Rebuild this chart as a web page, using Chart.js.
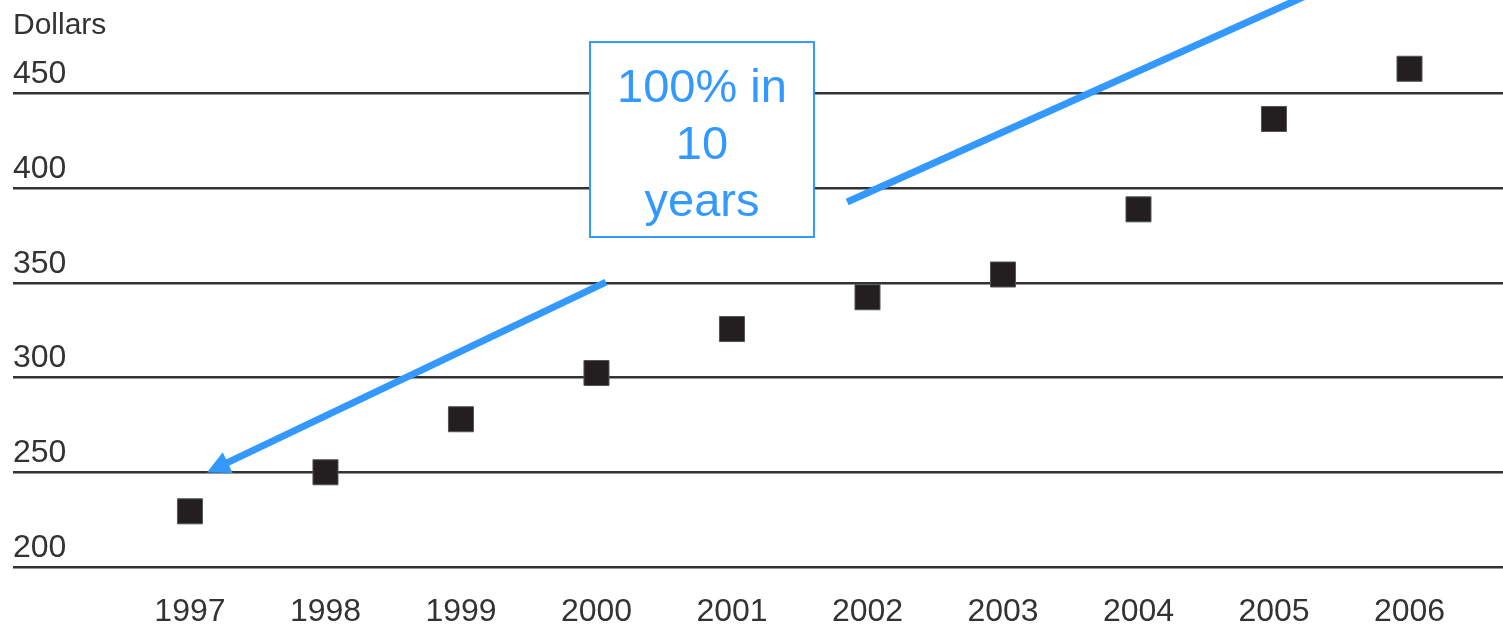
<!DOCTYPE html>
<html><head><meta charset="utf-8">
<script src="https://cdn.jsdelivr.net/npm/chart.js"></script>
<style>html,body{margin:0;padding:0;background:#fff;overflow:hidden}</style>
</head><body>
<canvas id="c" width="1503" height="640"></canvas>
<script>
// ---- data ----
const years = [1997, 1998, 1999, 2000, 2001, 2002, 2003, 2004, 2005, 2006];
const dollars = [229.4, 250.0, 278.0, 302.4, 325.6, 342.4, 354.4, 388.8, 436.5, 463.0];
const yTicks = [200, 250, 300, 350, 400, 450];
const axisTitle = 'Dollars';
const calloutLines = ['100% in', '10', 'years'];
// annotation anchors, in data units (year, dollars)
const calloutBox = { x0: 1999.952, x1: 2001.605, yTop: 477.1, yBottom: 374.2 };
const arrowIn = { from: [2000.07, 350.4], to: [1997.125, 249.9] };
const arrowOut = { from: [2001.85, 392.7], to: [2005.5, 510] };

const FONT = '"Liberation Sans", Arial, sans-serif';
const BLUE = '#3399ff';

const annotate = {
  id: 'annotate',
  afterDatasetsDraw(chart) {
    const { ctx, scales: { x, y } } = chart;
    ctx.save();
    // axis title
    ctx.fillStyle = '#333';
    ctx.font = '30px ' + FONT;
    ctx.textAlign = 'left';
    ctx.textBaseline = 'alphabetic';
    ctx.fillText(axisTitle, chart.chartArea.left, 34);

    // arrows
    ctx.strokeStyle = BLUE;
    ctx.fillStyle = BLUE;
    ctx.lineWidth = 7;
    ctx.lineCap = 'butt';
    // outgoing line (no head, runs off the top)
    ctx.beginPath();
    ctx.moveTo(x.getPixelForValue(arrowOut.from[0]), y.getPixelForValue(arrowOut.from[1]));
    ctx.lineTo(x.getPixelForValue(arrowOut.to[0]), y.getPixelForValue(arrowOut.to[1]));
    ctx.stroke();
    // incoming arrow with head
    const sx = x.getPixelForValue(arrowIn.from[0]), sy = y.getPixelForValue(arrowIn.from[1]);
    const tx = x.getPixelForValue(arrowIn.to[0]), ty = y.getPixelForValue(arrowIn.to[1]);
    const ang = Math.atan2(ty - sy, tx - sx);
    const headLen = 23, headHalf = 11.5;
    const bx = tx - Math.cos(ang) * headLen, by = ty - Math.sin(ang) * headLen;
    ctx.beginPath();
    ctx.moveTo(sx, sy);
    ctx.lineTo(bx + Math.cos(ang) * 2, by + Math.sin(ang) * 2);
    ctx.stroke();
    ctx.beginPath();
    ctx.moveTo(tx, ty);
    ctx.lineTo(bx + Math.sin(ang) * headHalf, by - Math.cos(ang) * headHalf);
    ctx.lineTo(bx - Math.sin(ang) * headHalf, by + Math.cos(ang) * headHalf);
    ctx.closePath();
    ctx.fill();

    // callout box
    const l = x.getPixelForValue(calloutBox.x0), r = x.getPixelForValue(calloutBox.x1);
    const t = y.getPixelForValue(calloutBox.yTop), b = y.getPixelForValue(calloutBox.yBottom);
    ctx.fillStyle = '#fff';
    ctx.fillRect(l, t, r - l, b - t);
    ctx.lineWidth = 2;
    ctx.strokeStyle = BLUE;
    ctx.strokeRect(l, t, r - l, b - t);
    ctx.fillStyle = BLUE;
    ctx.font = '47px ' + FONT;
    ctx.textAlign = 'center';
    ctx.textBaseline = 'alphabetic';
    calloutLines.forEach((s, i) => ctx.fillText(s, (l + r) / 2, t + 60 + i * 57));
    ctx.restore();
  }
};

new Chart(document.getElementById('c'), {
  type: 'scatter',
  data: {
    datasets: [{
      data: years.map((yr, i) => ({ x: yr, y: dollars[i] })),
      pointStyle: 'rect',
      pointRadius: 17.7,
      pointHoverRadius: 17.7,
      backgroundColor: '#231f20',
      borderColor: '#555',
      borderWidth: 1,
      clip: false
    }]
  },
  options: {
    responsive: false,
    animation: false,
    devicePixelRatio: 1,
    events: [],
    layout: { autoPadding: false, padding: { left: 13, right: 0, top: 0, bottom: 0 } },
    plugins: { legend: { display: false }, tooltip: { enabled: false } },
    scales: {
      x: {
        type: 'linear',
        min: 1995.694,
        max: 2006.69,
        afterBuildTicks: s => { s.ticks = years.map(v => ({ value: v })); },
        afterFit: s => { s.height = 73; s.paddingLeft = 0; s.paddingRight = 0; },
        grid: { display: false, drawTicks: false },
        border: { display: false },
        ticks: {
          font: { family: FONT, size: 32 },
          color: '#333',
          padding: 26,
          maxRotation: 0,
          autoSkip: false,
          callback: v => String(v)
        }
      },
      y: {
        min: 200,
        max: 499.3,
        afterBuildTicks: s => { s.ticks = yTicks.map(v => ({ value: v })); },
        afterFit: s => { s.width = 0; s.paddingTop = 0; s.paddingBottom = 0; },
        grid: { color: '#333', lineWidth: 2.5, drawTicks: false },
        border: { display: false },
        ticks: {
          mirror: true,
          padding: 0,
          labelOffset: -19,
          font: { family: FONT, size: 32 },
          color: '#333',
          callback: v => String(v)
        }
      }
    }
  },
  plugins: [annotate]
});
</script>
</body></html>
